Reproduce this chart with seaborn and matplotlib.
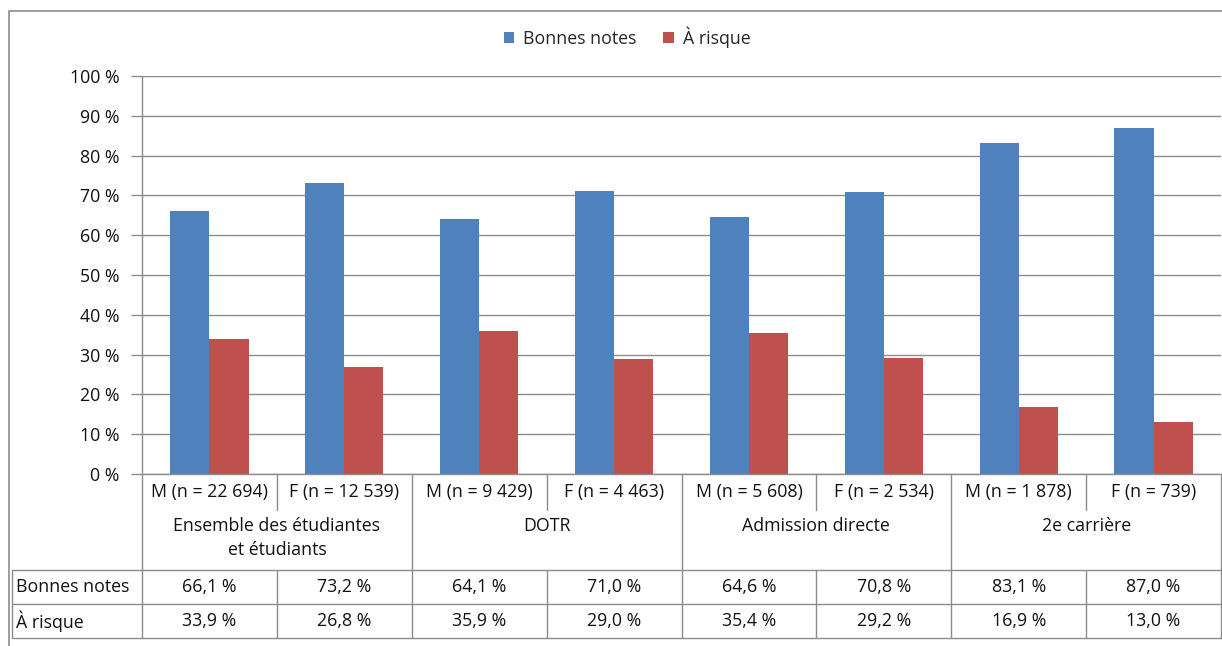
import matplotlib
matplotlib.use("Agg")
import matplotlib.pyplot as plt
import matplotlib.transforms as mtransforms
from matplotlib.lines import Line2D
from matplotlib.patches import Patch
import seaborn as sns
import pandas as pd

# Data
groups = ["Ensemble des étudiantes\net étudiants", "DOTR", "Admission directe", "2e carrière"]
columns = ["M (n = 22 694)", "F (n = 12 539)", "M (n = 9 429)", "F (n = 4 463)",
           "M (n = 5 608)", "F (n = 2 534)", "M (n = 1 878)", "F (n = 739)"]
series = ["Bonnes notes", "À risque"]
bonnes_notes = [66.1, 73.2, 64.1, 71.0, 64.6, 70.8, 83.1, 87.0]
a_risque = [33.9, 26.8, 35.9, 29.0, 35.4, 29.2, 16.9, 13.0]
y_ticks = [0, 10, 20, 30, 40, 50, 60, 70, 80, 90, 100]

colors = ["#4F81BD", "#C0504D"]
grid_col = "#8C8C8C"
text_col = "#111111"
FONT = ["Open Sans", "DejaVu Sans"]
FS = 12.8

sns.set_theme(style="white")
plt.rcParams["font.family"] = FONT

df = pd.DataFrame({
    "colonne": columns * 2,
    "serie": [series[0]] * len(columns) + [series[1]] * len(columns),
    "valeur": bonnes_notes + a_risque,
})

W, H = 1222, 646
fig = plt.figure(figsize=(W / 100, H / 100), dpi=100)

# plot area in pixel coordinates
px_left, px_right, px_top, px_bottom = 142, 1221, 76, 474
ax = fig.add_axes([px_left / W, 1 - px_bottom / H, (px_right - px_left) / W, (px_bottom - px_top) / H])

sns.barplot(data=df, x="colonne", y="valeur", hue="serie", order=columns, hue_order=series,
            palette=colors, width=0.58, gap=0, saturation=1, ax=ax, legend=False,
            linewidth=0)

ax.set_ylim(0, 100)
ax.set_xlim(-0.5, len(columns) - 0.5)
ax.set_yticks(y_ticks)
ax.set_yticklabels([f"{t} %" for t in y_ticks], fontsize=FS, color=text_col)
ax.set_xticks([])
ax.set_xlabel("")
ax.set_ylabel("")
ax.yaxis.grid(True, color=grid_col, linewidth=1)
ax.set_axisbelow(True)
for s in ["top", "right", "bottom"]:
    ax.spines[s].set_visible(False)
ax.spines["left"].set_color(grid_col)
ax.spines["left"].set_linewidth(1)
ax.tick_params(axis="y", length=8, width=1, color=grid_col, direction="out", pad=8, left=True)

# table below the plot: x in data units, y in pixels from top
def fy(py):
    return 1 - py / H

blend = mtransforms.blended_transform_factory(ax.transData, fig.transFigure)

def vline(xd, y0, y1):
    fig.add_artist(Line2D([xd, xd], [fy(y0), fy(y1)], transform=blend, color=grid_col, lw=1))

def hline_fig(x0, x1, py):
    fig.add_artist(Line2D([x0 / W, x1 / W], [fy(py), fy(py)], transform=fig.transFigure,
                          color=grid_col, lw=1))

row_cat, row_grp, row_b, row_r, row_end = 474, 510, 570, 604, 638

hline_fig(px_left, px_right, row_cat)
for py in (row_b, row_r, row_end):
    hline_fig(12, px_right, py)

vline(-0.5, row_cat, row_end)
for i in range(1, len(columns) + 1):
    xd = i - 0.5
    if i % 2 == 1:
        vline(xd, row_cat, row_grp)
        vline(xd, row_b, row_end)
    else:
        vline(xd, row_cat, row_end)
fig.add_artist(Line2D([12 / W, 12 / W], [fy(row_b), fy(row_end)], transform=fig.transFigure,
                      color=grid_col, lw=1))

for i, lab in enumerate(columns):
    fig.text(i, fy((row_cat + row_grp) / 2), lab, transform=blend, ha="center", va="center",
             fontsize=FS, color=text_col)
for g, lab in enumerate(groups):
    fig.text(2 * g + 0.5, fy(517), lab, transform=blend, ha="center", va="top",
             fontsize=FS, color=text_col, linespacing=1.4)

for vals, name, (y0, y1) in [(bonnes_notes, series[0], (row_b, row_r)),
                             (a_risque, series[1], (row_r, row_end))]:
    yc = fy((y0 + y1) / 2)
    fig.text(16 / W, yc, name, ha="left", va="center", fontsize=FS, color=text_col)
    for i, v in enumerate(vals):
        fig.text(i, yc, f"{v:.1f} %".replace(".", ","), transform=blend, ha="center",
                 va="center", fontsize=FS, color=text_col)

# outer chart frame
fig.add_artist(Line2D([9 / W, 9 / W, W / W], [0, fy(11), fy(11)], transform=fig.transFigure,
                      color=grid_col, lw=1.2))

handles = [Patch(facecolor=c, edgecolor="none") for c in colors]
fig.legend(handles, series, loc="center", bbox_to_anchor=(627 / W, fy(37)), ncol=2,
           frameon=False, fontsize=FS, handlelength=0.6, handleheight=0.6,
           handletextpad=0.5, columnspacing=1.5)

fig.savefig("out.png", dpi=100, facecolor="white")
